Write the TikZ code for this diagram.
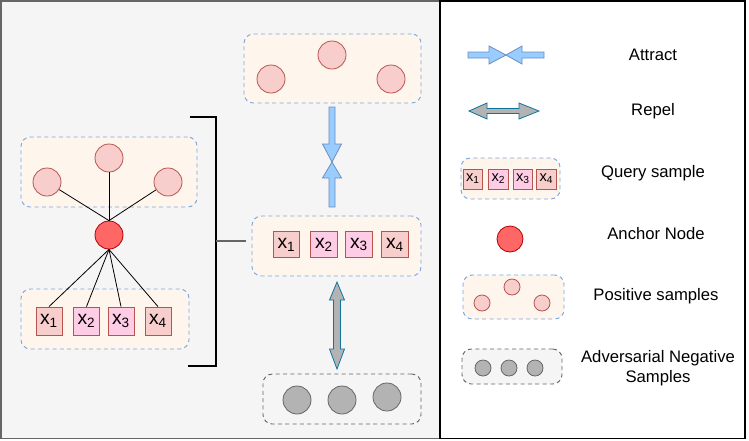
\documentclass[tikz,border=0pt]{standalone}
\usepackage{fontspec}
\setmainfont{Liberation Sans}
\definecolor{panelgray}{HTML}{F5F5F5}
\definecolor{panelline}{HTML}{666666}
\definecolor{grpfill}{HTML}{FEF5EC}
\definecolor{grpline}{HTML}{7EA6E0}
\definecolor{posfill}{HTML}{F8CECC}
\definecolor{posline}{HTML}{B85450}
\definecolor{pinkfill}{HTML}{FFCCE6}
\definecolor{ancfill}{HTML}{FF6666}
\definecolor{ancline}{HTML}{B20000}
\definecolor{attfill}{HTML}{99CCFF}
\definecolor{attline}{HTML}{6C8EBF}
\definecolor{repfill}{HTML}{B3B3B3}
\definecolor{repline}{HTML}{10739E}
\begin{document}
\begin{tikzpicture}[x=0.75pt,y=-0.75pt,
	grp/.style={draw=grpline, fill=grpfill, dash pattern=on 3pt off 2.5pt, rounded corners=7pt, line width=0.7pt, inner sep=0pt},
	neggrp/.style={grp, draw=panelline, fill=panelgray},
	possmp/.style={circle, draw=posline, fill=posfill, minimum size=21pt, inner sep=0pt, line width=0.6pt},
	negsmp/.style={possmp, draw=panelline, fill=repfill},
	ancnode/.style={circle, draw=ancline, fill=ancfill, minimum size=21pt, inner sep=0pt, line width=0.6pt},
	qbox/.style={draw=posline, fill=posfill, minimum width=19.5pt, minimum height=21pt, inner sep=0pt, line width=0.6pt, font=\fontsize{14.5}{14.5}\selectfont},
	lbox/.style={qbox, minimum width=14.5pt, minimum height=15pt, font=\fontsize{11}{11}\selectfont},
	lbl/.style={font=\fontsize{12.5}{15}\selectfont, align=center}]
	\useasboundingbox (0,0) rectangle (749,440);
	% panels
	\draw[panelline, fill=panelgray, line width=1.2pt] (1,1) rectangle (440,438.5);
	\draw[black, fill=white, line width=0.8pt] (440,1) rectangle (745,438.5);
	
	% left: anchor with its samples
	\node[grp, minimum width=132pt, minimum height=52.5pt] (lposgrp) at (109,172) {};
	\node[grp, minimum width=126pt, minimum height=45pt] (lqgrp) at (105,319) {};
	\node[possmp] (lp1) at (47,182) {};
	\node[possmp] (lp2) at (109,158) {};
	\node[possmp] (lp3) at (168,182) {};
	\node[ancnode] (anchor) at (109,235) {};
	\node[qbox] (lq1) at (49,321) {x\textsubscript{1}};
	\node[qbox, fill=pinkfill] (lq2) at (86.5,321) {x\textsubscript{2}};
	\node[qbox, fill=pinkfill] (lq3) at (121,321) {x\textsubscript{3}};
	\node[qbox] (lq4) at (158,321) {x\textsubscript{4}};
	\foreach \n in {lp1,lp2,lp3}
		\draw[line width=0.6pt] (anchor.north) -- (\n);
	\foreach \n in {lq1,lq2,lq3,lq4}
		\draw[line width=0.6pt] (anchor.south) -- (\n.north);
	
	% bracket
	\draw[line width=0.9pt] (190,117) -- (216,117) -- (216,366) -- (188,366);
	\draw[panelline, line width=1pt] (216,241) -- (246,241);
	
	% middle column
	\node[grp, minimum width=132.75pt, minimum height=51.75pt] (tposgrp) at (332.5,68.5) {};
	\node[possmp] (tp1) at (271,79) {};
	\node[possmp] (tp2) at (332,55) {};
	\node[possmp] (tp3) at (391,79) {};
	\node[grp, minimum width=126.75pt, minimum height=45pt] (mqgrp) at (336.5,246) {};
	\node[qbox, minimum width=20pt, minimum height=20pt] (mq1) at (286.5,244.5) {x\textsubscript{1}};
	\node[qbox, minimum width=20pt, minimum height=20pt, fill=pinkfill] (mq2) at (324,244.5) {x\textsubscript{2}};
	\node[qbox, minimum width=20pt, minimum height=20pt, fill=pinkfill] (mq3) at (359,244.5) {x\textsubscript{3}};
	\node[qbox, minimum width=20pt, minimum height=20pt] (mq4) at (395,244.5) {x\textsubscript{4}};
	\node[neggrp, minimum width=118.5pt, minimum height=37.5pt] (ngrp) at (342,399) {};
	\node[negsmp] (n1) at (297,400) {};
	\node[negsmp] (n2) at (342,400) {};
	\node[negsmp] (n3) at (387,397) {};
	
	% attract and repel arrows
	\draw[attline, fill=attfill, line width=0.6pt] (329,107) -- (335,107) -- (335,144) -- (341.5,144) -- (332,162) -- (322.5,144) -- (329,144) -- cycle;
	\draw[attline, fill=attfill, line width=0.6pt] (329,207) -- (335,207) -- (335,178) -- (341.5,178) -- (332,162) -- (322.5,178) -- (329,178) -- cycle;
	\draw[repline, fill=repfill, line width=0.6pt] (337,282) -- (344.5,300) -- (340.5,300) -- (340.5,349) -- (344.5,349) -- (337,369) -- (329.5,349) -- (333.5,349) -- (333.5,300) -- (329.5,300) -- cycle;
	
	% legend
	\draw[attline, fill=attfill, line width=0.6pt] (468,52) -- (489,52) -- (489,46) -- (506,55) -- (489,64) -- (489,58) -- (468,58) -- cycle;
	\draw[attline, fill=attfill, line width=0.6pt] (544,52) -- (522,52) -- (522,46) -- (506,55) -- (522,64) -- (522,58) -- (544,58) -- cycle;
	\node[lbl] (tattract) at (653,55) {Attract};
	\draw[repline, fill=repfill, line width=0.6pt] (469,111) -- (487,103) -- (487,108.5) -- (519,108.5) -- (519,103) -- (539,111) -- (519,119) -- (519,113.5) -- (487,113.5) -- (487,119) -- cycle;
	\node[lbl] (trepel) at (653,111) {Repel};
	
	\node[grp, minimum width=74.25pt, minimum height=30.75pt] (legq) at (510.5,178.5) {};
	\node[lbox] (lg1) at (473,179) {x\textsubscript{1}};
	\node[lbox, fill=pinkfill] (lg2) at (498.5,179) {x\textsubscript{2}};
	\node[lbox, fill=pinkfill] (lg3) at (523,179) {x\textsubscript{3}};
	\node[lbox] (lg4) at (546.5,179) {x\textsubscript{4}};
	\node[lbl] (tquery) at (653,173) {Query sample};
	
	\node[ancnode, minimum size=19.5pt] (leganc) at (510,239) {};
	\node[lbl] (tanchor) at (656,234) {Anchor Node};
	
	\node[grp, minimum width=75.75pt, minimum height=33pt] (legp) at (513.5,297) {};
	\node[possmp, minimum size=12pt] (lgp1) at (482,303) {};
	\node[possmp, minimum size=12pt] (lgp2) at (512,287) {};
	\node[possmp, minimum size=12pt] (lgp3) at (542,303) {};
	\node[lbl] (tpos) at (656,296) {Positive samples};
	
	\node[neggrp, minimum width=75pt, minimum height=26.25pt] (legn) at (512,366.5) {};
	\node[negsmp, minimum size=12pt] (lgn1) at (483,368) {};
	\node[negsmp, minimum size=12pt] (lgn2) at (509,368) {};
	\node[negsmp, minimum size=12pt] (lgn3) at (535,368) {};
	\node[lbl] (tneg) at (658,368) {Adversarial Negative\\Samples};
\end{tikzpicture}
\end{document}
